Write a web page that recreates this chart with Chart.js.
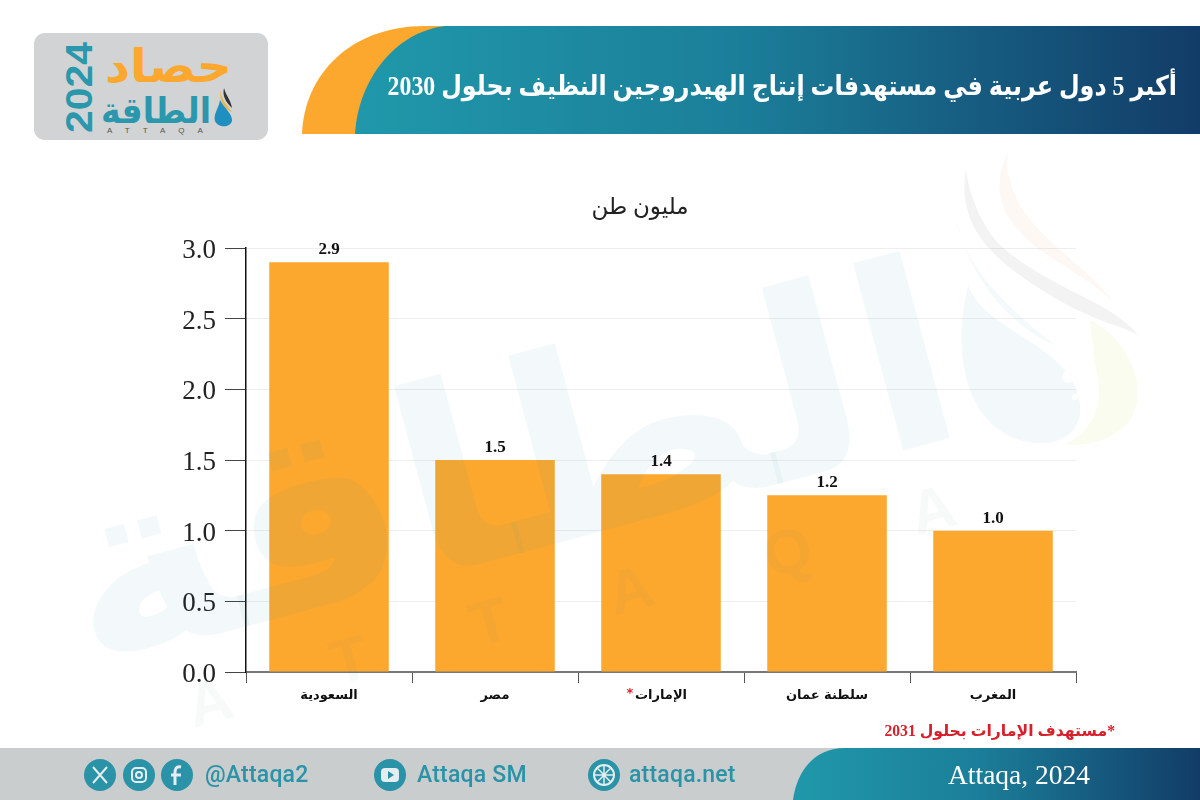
<!DOCTYPE html>
<html lang="ar">
<head>
<meta charset="utf-8">
<title>Attaqa chart</title>
<script src="https://cdn.jsdelivr.net/npm/chart.js@4"></script>
<style>
    html, body { margin: 0; padding: 0; background: #fff; }
    #page { position: relative; width: 1200px; height: 800px; overflow: hidden; }
    #page > * { position: absolute; }
    #decor, #chart, #watermark { left: 0; top: 0; }
    #watermark { pointer-events: none; }
    /* digits come from the serif face, Arabic falls through to DejaVu */
    .ar { direction: rtl; white-space: nowrap; font-family: "Liberation Serif", "DejaVu Sans", serif; }
    #title { right: 23px; top: 70px; color: #fff; font-size: 27px; font-weight: bold; transform: scaleX(0.882); transform-origin: right center; }
    #unit { left: 540px; width: 200px; text-align: center; top: 193px; font-size: 23px; color: #222; }
    #note { right: 85px; top: 721px; color: #d8202c; font-size: 15.7px; font-weight: bold; }
    .social { top: 761px; color: #2a93a8; font: 500 23px "Roboto", sans-serif; letter-spacing: 0.2px; white-space: nowrap; }
    #source { left: 948px; top: 759px; color: #fff; font: 27.5px "Liberation Serif", serif; white-space: nowrap; }
</style>
</head>
<body>
<div id="page">
    <svg id="decor" width="1200" height="800" viewBox="0 0 1200 800" xmlns="http://www.w3.org/2000/svg">
        <defs>
            <linearGradient id="band" x1="0" x2="1" y1="0" y2="0">
                <stop offset="0" stop-color="#2098aa"/>
                <stop offset="0.45" stop-color="#1b7f9a"/>
                <stop offset="1" stop-color="#123c68"/>
            </linearGradient>
        </defs>

        <!-- header band -->
        <path d="M302 134 C304 75 350 26 425 26 L470 26 L470 134 Z" fill="#fca82f"/>
        <path d="M355 134 C358 80 395 32 445 26 L1200 26 L1200 134 Z" fill="url(#band)"/>

        <!-- logo -->
        <rect x="34" y="33" width="234" height="107" rx="11" fill="#d1d3d4"/>
        <text x="0" y="0" transform="translate(92 133) rotate(-90)" textLength="91" lengthAdjust="spacingAndGlyphs" font-family="Liberation Sans" font-weight="bold" font-size="37" fill="#2a97ac">2024</text>
        <text x="232" y="82" direction="rtl" textLength="127" lengthAdjust="spacingAndGlyphs" font-family="DejaVu Sans" font-weight="bold" font-size="46" fill="#fca82f">حصاد</text>
        <text x="211" y="123" direction="rtl" textLength="110" lengthAdjust="spacingAndGlyphs" font-family="DejaVu Sans" font-weight="bold" font-size="36" fill="#2a97ac">الطاقة</text>
        <path d="M224 88 C226 96 231 100 232 108 C226 102 222 96 224 88 Z" fill="#333"/>
        <path d="M221 90 C220 98 226 104 232 112 C226 110 218 102 221 90 Z" fill="#e8b64c"/>
        <path d="M220 100 C224 108 233 114 232 121 C230 128 218 128 215 121 C213 114 219 108 220 100 Z" fill="#1f8fc0"/>
        <text x="107" y="133" font-family="Liberation Sans" font-size="8" letter-spacing="13" fill="#555">ATTAQA</text>

        <!-- footer -->
        <rect x="0" y="748" width="1200" height="52" fill="#c9cdcd"/>
        <path d="M793 800 C797 770 815 748 845 748 L1200 748 L1200 800 Z" fill="url(#band)"/>

        <!-- social icons -->
        <g fill="#2a93a8">
            <ellipse cx="100" cy="775" rx="16" ry="16"/>
            <ellipse cx="139" cy="775" rx="16" ry="16"/>
            <ellipse cx="177" cy="775" rx="16" ry="16"/>
            <ellipse cx="390" cy="775" rx="16" ry="16"/>
            <ellipse cx="604" cy="775" rx="16" ry="16"/>
        </g>
        <g fill="none" stroke="#e4eef0" stroke-width="2">
            <path d="M93 767 L107 783 M107 767 L93 783"/>
            <rect x="132" y="768" width="14" height="14" rx="4"/>
            <circle cx="139" cy="775" r="3"/>
            <path d="M181 767 C176 766 175 769 175 773 L175 785 M171 775 L181 775" stroke-width="3"/>
            <circle cx="604" cy="775" r="10"/>
            <path d="M594 775 L614 775 M604 765 L604 785 M597 768 C602 772 606 778 611 782 M611 768 C606 772 602 778 597 782" stroke-width="1.5"/>
        </g>
        <rect x="381" y="768" width="18" height="14" rx="4" fill="#e4eef0"/>
        <path d="M388 771 L394 775 L388 779 Z" fill="#2a93a8"/>
    </svg>

    <canvas id="chart" width="1200" height="800"></canvas>

    <!-- the watermark sits over the chart, the bars show it too -->
    <svg id="watermark" width="1200" height="800" viewBox="0 0 1200 800" xmlns="http://www.w3.org/2000/svg">
        <text transform="translate(972 432) rotate(-15) scale(1.08 1)" direction="rtl" font-size="255" font-weight="bold" font-family="DejaVu Sans" fill="#2a93a8" fill-opacity="0.055">الطاقة</text>
        <g fill="#5a6a70" fill-opacity="0.045" font-family="Liberation Sans" font-size="62" font-weight="bold" text-anchor="middle">
            <text transform="translate(215 722) rotate(-15)">A</text>
            <text transform="translate(355 680) rotate(-15)">T</text>
            <text transform="translate(495 642) rotate(-15)">T</text>
            <text transform="translate(636 610) rotate(-15)">A</text>
            <text transform="translate(793 572) rotate(-15)">Q</text>
            <text transform="translate(938 530) rotate(-15)">A</text>
        </g>
        <path d="M966 170 C955 230 1000 265 1050 295 C1090 320 1120 325 1138 335 C1110 300 1050 290 1000 245 C985 230 970 200 966 170 Z" fill="#777" fill-opacity="0.09"/>
        <path d="M1008 152 C990 190 1000 220 1040 250 C1070 270 1095 285 1112 300 C1090 270 1040 240 1020 205 C1010 185 1005 170 1008 152 Z" fill="#f4a070" fill-opacity="0.07"/>
        <path d="M955 215 C965 270 1010 310 1055 345 C1030 335 975 300 955 215 Z" fill="#2a93a8" fill-opacity="0.05"/>
        <path d="M968 285 C980 320 1030 335 1060 365 C1090 395 1088 440 1045 443 C1000 445 965 410 962 350 C960 320 965 300 968 285 Z" fill="#5aa0c8" fill-opacity="0.07"/>
        <path d="M1090 320 C1130 340 1150 390 1130 420 C1110 445 1080 445 1065 445 C1095 430 1105 400 1095 365 Z" fill="#d8e070" fill-opacity="0.1"/>
        <circle cx="1068" cy="377" r="6" fill="#fff"/>
        <circle cx="1075" cy="397" r="3" fill="#fff"/>
    </svg>

    <div id="title" class="ar">أكبر 5 دول عربية في مستهدفات إنتاج الهيدروجين النظيف بحلول 2030</div>
    <div id="unit" class="ar">مليون طن</div>
    <div id="note" class="ar">*مستهدف الإمارات بحلول 2031</div>
    <div class="social" style="left:205px">@Attaqa2</div>
    <div class="social" style="left:417px">Attaqa SM</div>
    <div class="social" style="left:629px">attaqa.net</div>
    <div id="source">Attaqa, 2024</div>
</div>

<script>
// Chart data
const categories = ['السعودية', 'مصر', 'الإمارات', 'سلطنة عمان', 'المغرب'];
// the Oman bar is drawn at about 1.25 in the source while its label reads 1.2
const values = [2.9, 1.5, 1.4, 1.25, 1.0];
const valueLabels = ['2.9', '1.5', '1.4', '1.2', '1.0'];
const yTicks = [0, 0.5, 1.0, 1.5, 2.0, 2.5, 3.0];
const starredCategory = 'الإمارات';

// Draws the value above each bar and the red star beside the UAE label
const barLabels = {
    id: 'barLabels',
    afterDatasetsDraw(chart) {
        const ctx = chart.ctx;
        const bars = chart.getDatasetMeta(0).data;
        ctx.save();
        ctx.textAlign = 'center';
        ctx.textBaseline = 'bottom';
        ctx.fillStyle = '#111';
        ctx.font = 'bold 17px "Liberation Serif", serif';
        bars.forEach((bar, i) => {
            ctx.fillText(valueLabels[i], bar.x, bar.y - 4);
        });

        // star sits to the left of the Arabic label
        const starIndex = categories.indexOf(starredCategory);
        ctx.font = 'bold 13px "DejaVu Sans", sans-serif';
        const labelWidth = ctx.measureText(starredCategory).width;
        ctx.fillStyle = '#d8202c';
        ctx.textBaseline = 'middle';
        ctx.fillText('*', bars[starIndex].x - labelWidth / 2 - 5, 694);
        ctx.restore();
    }
};

new Chart(document.getElementById('chart').getContext('2d'), {
    type: 'bar',
    data: {
        labels: categories,
        datasets: [{
            data: values,
            backgroundColor: '#fca82f',
            barPercentage: 0.72,
            categoryPercentage: 1
        }]
    },
    options: {
        responsive: false,
        animation: false,
        layout: { padding: { top: 248, right: 124, left: 0, bottom: 0 } },
        plugins: { legend: { display: false }, tooltip: { enabled: false } },
        scales: {
            x: {
                offset: true,
                afterFit(axis) { axis.height = 128; },
                border: { color: '#777', width: 2 },
                grid: { offset: true, drawOnChartArea: false, tickLength: 11, tickColor: '#555' },
                ticks: {
                    color: '#111',
                    padding: 5,
                    maxRotation: 0,
                    font: { family: '"DejaVu Sans", sans-serif', size: 13, weight: 'bold' }
                }
            },
            y: {
                min: 0,
                max: 3,
                afterFit(axis) { axis.width = 246; },
                afterBuildTicks(axis) { axis.ticks = yTicks.map(v => ({ value: v })); },
                border: { color: '#111', width: 1.5 },
                grid: { color: '#eeeeee', tickLength: 21, tickColor: '#444' },
                ticks: {
                    color: '#222',
                    padding: 9,
                    // empty first line pushes the number a little below its tick, as in the source
                    callback: v => ['', v.toFixed(1)],
                    font: { family: '"Liberation Serif", serif', size: 27, lineHeight: '6px' }
                }
            }
        }
    },
    plugins: [barLabels]
});
</script>
</body>
</html>
